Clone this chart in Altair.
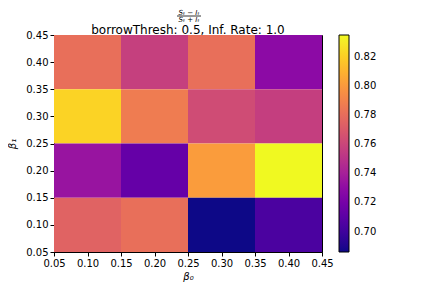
import altair as alt
import pandas as pd

# Cell bins (beta0 along x, beta1 along y) and values
x_lo = [0.05, 0.15, 0.25, 0.35]
y_lo = [0.35, 0.25, 0.15, 0.05]  # rows from top to bottom
bin_w = 0.1
values = [
    [0.781, 0.757, 0.781, 0.729],
    [0.822, 0.787, 0.763, 0.756],
    [0.734, 0.714, 0.801, 0.835],
    [0.775, 0.781, 0.686, 0.704],
]
ticks = [0.05, 0.10, 0.15, 0.20, 0.25, 0.30, 0.35, 0.40, 0.45]
cbar_ticks = [0.70, 0.72, 0.74, 0.76, 0.78, 0.80, 0.82]
title_text = "borrowThresh: 0.5, Inf. Rate: 1.0"
frac_num = "Sₜ − Iₜ"
frac_den = "Sₜ + Iₜ"

rows = []
for i, yl in enumerate(y_lo):
    for j, xl in enumerate(x_lo):
        rows.append({"x": xl, "x2": xl + bin_w, "y": yl, "y2": yl + bin_w, "v": values[i][j]})
df = pd.DataFrame(rows)

vmin = min(min(r) for r in values)
vmax = max(max(r) for r in values)

W, H = 268, 217

heat = alt.Chart(df).mark_rect().encode(
    x=alt.X("x:Q", scale=alt.Scale(domain=[0.05, 0.45], nice=False, zero=False),
            axis=alt.Axis(values=ticks, format=".2f", title="β₀", labelFlush=False,
                          titleFont="DejaVu Sans", titleFontStyle="italic",
                          titleFontWeight="normal", titleFontSize=10, titlePadding=3)),
    x2="x2:Q",
    y=alt.Y("y:Q", scale=alt.Scale(domain=[0.05, 0.45], nice=False, zero=False),
            axis=alt.Axis(values=ticks, format=".2f", title="β₁", labelFlush=False,
                          titleFont="DejaVu Sans", titleFontStyle="italic",
                          titleFontWeight="normal", titleFontSize=10, titlePadding=8)),
    y2="y2:Q",
    color=alt.Color("v:Q",
                    scale=alt.Scale(scheme="plasma", domain=[vmin, vmax], nice=False, zero=False),
                    legend=alt.Legend(title=None, orient="none", legendX=285, legendY=0,
                                      direction="vertical", gradientLength=H,
                                      gradientThickness=10, values=cbar_ticks, format=".2f",
                                      gradientStrokeColor="black", gradientStrokeWidth=1,
                                      labelFontSize=10, labelFont="DejaVu Sans",
                                      labelColor="black", labelOffset=5)),
)

one = pd.DataFrame({"a": [0]})
title_mark = alt.Chart(one).mark_text(fontSize=12, font="DejaVu Sans", color="black",
                                      baseline="alphabetic", align="center").encode(
    x=alt.value(W / 2), y=alt.value(-1), text=alt.value(title_text))
num_mark = alt.Chart(one).mark_text(fontSize=7, font="DejaVu Sans", fontStyle="italic",
                                    color="black", baseline="alphabetic", align="center").encode(
    x=alt.value(W / 2 + 1), y=alt.value(-20.5), text=alt.value(frac_num))
den_mark = alt.Chart(one).mark_text(fontSize=7, font="DejaVu Sans", fontStyle="italic",
                                    color="black", baseline="alphabetic", align="center").encode(
    x=alt.value(W / 2 + 1), y=alt.value(-13.5), text=alt.value(frac_den))
bar_mark = alt.Chart(one).mark_rule(color="black", strokeWidth=0.8).encode(
    x=alt.value(W / 2 - 11), x2=alt.value(W / 2 + 13), y=alt.value(-19))

chart = alt.layer(heat, title_mark, num_mark, den_mark, bar_mark).properties(
    width=W, height=H,
    autosize=alt.AutoSizeParams(type="none"),
    padding={"left": 46, "top": 27, "right": 90, "bottom": 34},
    background="white",
).configure_view(stroke="black", strokeWidth=1).configure_axis(
    grid=False, domainColor="black", tickColor="black", labelColor="black",
    titleColor="black", tickSize=4, labelFontSize=10, labelFont="DejaVu Sans",
    domainWidth=1, tickWidth=1, labelPadding=2,
)

chart.save("out.html", embed_options={"renderer": "svg", "actions": False})
